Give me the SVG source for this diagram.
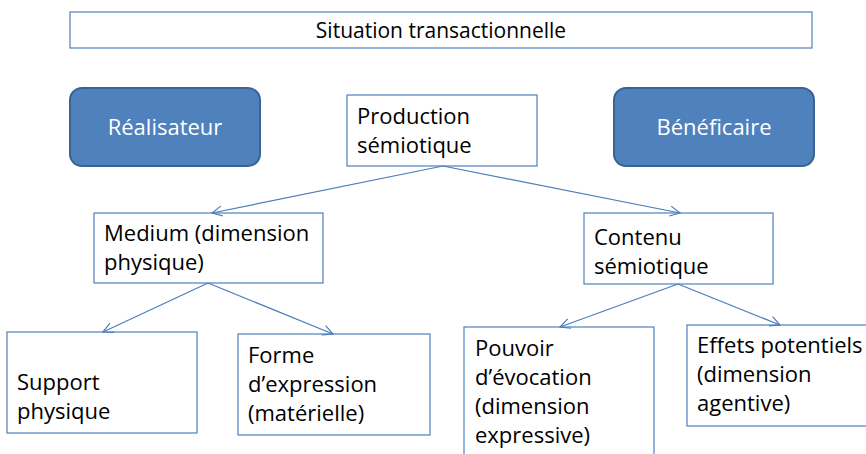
<svg xmlns="http://www.w3.org/2000/svg" width="866" height="454" viewBox="0 0 866 454">
<style>
.box{fill:#fff;stroke:#4F81BD;stroke-width:1.2}
.rbox{fill:#4F81BD;stroke:#3A6292;stroke-width:2}
.t{font-family:"Open Sans",Lato,sans-serif;font-size:22px;fill:#000}
.w{font-family:"Open Sans",Lato,sans-serif;font-size:22px;fill:#fff;text-anchor:middle}
.c{stroke:#4A7EBB;stroke-width:1.2;fill:none;marker-end:url(#ah)}
</style>
<defs>
<marker id="ah" viewBox="0 0 12 12" refX="11" refY="6" markerWidth="12" markerHeight="12" markerUnits="userSpaceOnUse" orient="auto">
<path d="M1,1 L11,6 L1,11" fill="none" stroke="#4A7EBB" stroke-width="1.2"/>
</marker>
</defs>
<rect width="866" height="454" fill="#fff"/>
<g id="situation">
<rect class="box" x="70" y="12" width="742" height="36"/>
<text class="t" x="441" y="38" text-anchor="middle" style="font-size:21px">Situation transactionnelle</text>
</g>
<g id="realisateur">
<rect class="rbox" x="70" y="88" width="190" height="78" rx="12"/>
<text class="w" x="165" y="135">Réalisateur</text>
</g>
<g id="beneficaire">
<rect class="rbox" x="614" y="88" width="200" height="78" rx="12"/>
<text class="w" x="714" y="135">Bénéficaire</text>
</g>
<g id="production">
<rect class="box" x="347" y="95" width="190" height="71"/>
<text class="t" x="357" y="124">Production</text>
<text class="t" x="357" y="153">sémiotique</text>
</g>
<g id="medium">
<rect class="box" x="94" y="213" width="229" height="70"/>
<text class="t" x="104" y="241">Medium (dimension</text>
<text class="t" x="104" y="270">physique)</text>
</g>
<g id="contenu">
<rect class="box" x="584" y="213" width="189" height="71"/>
<text class="t" x="594" y="245">Contenu</text>
<text class="t" x="594" y="274">sémiotique</text>
</g>
<g id="support">
<rect class="box" x="7" y="332" width="190" height="101"/>
<text class="t" x="17" y="390">Support</text>
<text class="t" x="17" y="419">physique</text>
</g>
<g id="forme">
<rect class="box" x="238" y="334" width="192" height="101"/>
<text class="t" x="248" y="363">Forme</text>
<text class="t" x="248" y="392">d’expression</text>
<text class="t" x="248" y="421">(matérielle)</text>
</g>
<g id="pouvoir">
<rect class="box" x="464" y="327" width="190" height="140"/>
<text class="t" x="475" y="356">Pouvoir</text>
<text class="t" x="475" y="385">d’évocation</text>
<text class="t" x="475" y="414">(dimension</text>
<text class="t" x="475" y="443">expressive)</text>
</g>
<g id="effets">
<rect class="box" x="687" y="325" width="190" height="101"/>
<text class="t" x="697" y="353">Effets potentiels</text>
<text class="t" x="697" y="382">(dimension</text>
<text class="t" x="697" y="411">agentive)</text>
</g>
<g id="connectors">
<line class="c" x1="443" y1="166" x2="212" y2="213"/>
<line class="c" x1="443" y1="166" x2="680" y2="213"/>
<line class="c" x1="208" y1="283" x2="103" y2="332"/>
<line class="c" x1="208" y1="283" x2="333" y2="334"/>
<line class="c" x1="678" y1="284" x2="560" y2="327"/>
<line class="c" x1="678" y1="284" x2="780" y2="325"/>
</g>
</svg>
